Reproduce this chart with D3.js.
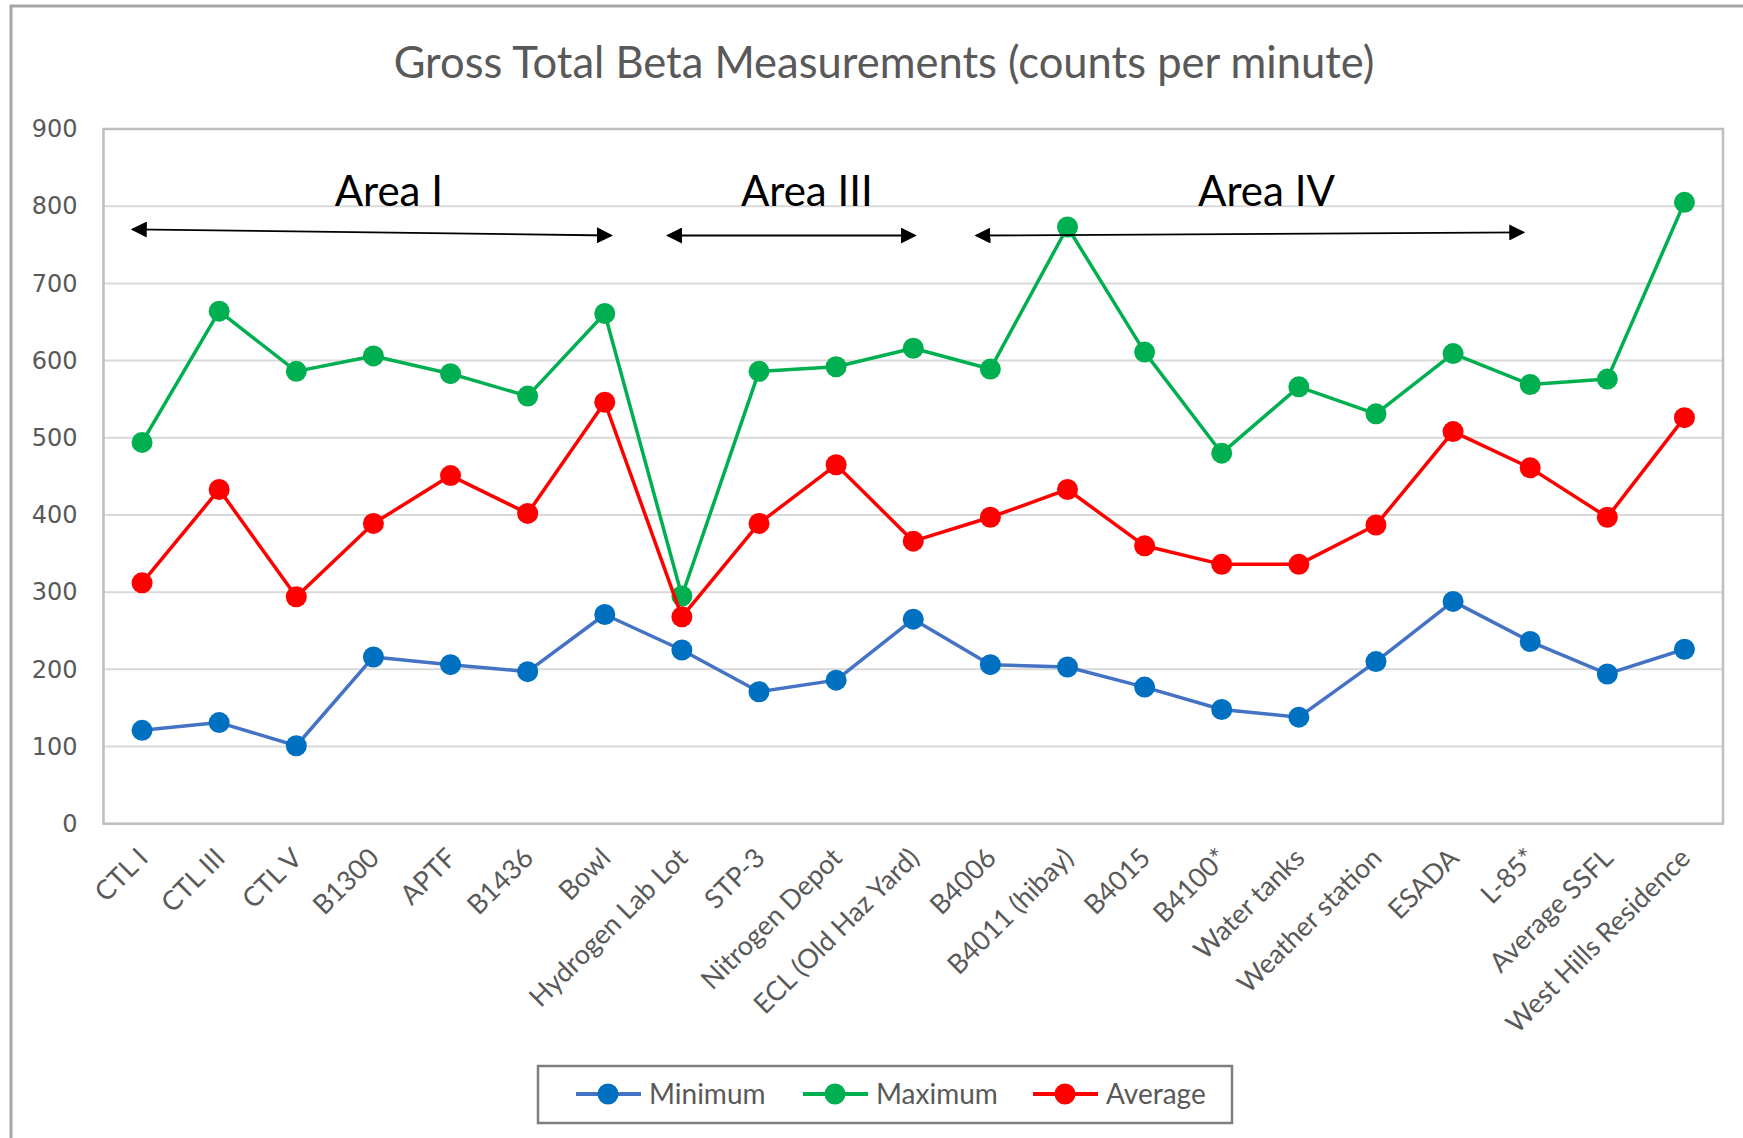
<!DOCTYPE html>
<html><head><meta charset="utf-8">
<script src="https://cdn.jsdelivr.net/npm/d3@7"></script>
<style>html,body{margin:0;padding:0;background:#fff;overflow:hidden}</style>
</head><body>
<svg id="chart" width="1743" height="1138"></svg>
<script>
const categories = ["CTL  I","CTL III","CTL V","B1300","APTF","B1436","Bowl","Hydrogen Lab Lot","STP-3","Nitrogen Depot","ECL (Old Haz Yard)","B4006","B4011 (hibay)","B4015","B4100*","Water tanks","Weather station","ESADA","L-85*","Average SSFL","West Hills Residence"];
const minimum = [121,131,101,216,206,197,271,225,171,186,265,206,203,177,148,138,210,288,236,194,226];
const maximum = [494,664,586,606,583,554,661,295,586,592,616,589,773,611,480,566,531,609,569,576,805];
const average = [312,433,294,389,451,402,546,268,389,465,366,397,433,360,336,336,387,508,461,397,526];
const yTicks = [0,100,200,300,400,500,600,700,800,900];
const seriesNames = ["Minimum","Maximum","Average"];
const lineColors = ["#4472C4","#00B050","#FF0000"];
const markerColors = ["#0070C0","#00B050","#FF0000"];
const title = "Gross Total Beta Measurements (counts per minute)";
// annotations: x in category-index units, y in data units
const areaLabels = [{t:"Area I", i:3.2, v:800},{t:"Area III", i:8.62, v:800},{t:"Area IV", i:14.58, v:800}];
const arrows = [{i0:-0.12,v0:770,i1:6.08,v1:762},{i0:6.82,v0:762,i1:10.02,v1:762},{i0:10.82,v0:762,i1:17.91,v1:766}];

const svg = d3.select("#chart");
const W = 1743, H = 1138;
const plotL = 103.5, plotR = 1723, plotT = 129, plotB = 823.7;

svg.append("rect").attr("x",11).attr("y",6).attr("width",W+20).attr("height",H+20)
  .attr("fill","#fff").attr("stroke","#a6a6a6").attr("stroke-width",3);

const x = d3.scalePoint().domain(categories).range([plotL, plotR]).padding(0.5);
const y = d3.scaleLinear().domain([0,900]).range([plotB, plotT]);
const xi = i => x(categories[0]) + i * x.step();

// gridlines
svg.append("g").selectAll("line").data(yTicks).join("line")
  .attr("x1",plotL).attr("x2",plotR).attr("y1",d=>y(d)).attr("y2",d=>y(d))
  .attr("stroke","#d9d9d9").attr("stroke-width",2);
// plot border
svg.append("rect").attr("x",plotL).attr("y",plotT).attr("width",plotR-plotL).attr("height",plotB-plotT)
  .attr("fill","none").attr("stroke","#bfbfbf").attr("stroke-width",2.5);

// y axis labels
const yAxis = d3.axisLeft(y).tickValues(yTicks).tickSize(0).tickPadding(26);
const gy = svg.append("g").attr("transform",`translate(${plotL},0)`).call(yAxis);
gy.select(".domain").remove();
gy.selectAll("text").attr("font-family","DejaVu Sans").attr("font-size",24).attr("fill","#595959");

// x axis labels
const xAxis = d3.axisBottom(x).tickSize(0).tickPadding(0);
const gx = svg.append("g").attr("transform",`translate(0,${plotB})`).call(xAxis);
gx.select(".domain").remove();
gx.selectAll("text")
  .attr("font-family","Lato").attr("font-size",27).attr("fill","#595959")
  .attr("text-anchor","end").attr("dy","0")
  .attr("transform","translate(7,36) rotate(-45)");

// series
const seriesData = [minimum, maximum, average];
const line = d3.line().x((d,i)=>x(categories[i])).y(d=>y(d));
seriesData.forEach((vals, s) => {
  const g = svg.append("g");
  g.append("path").datum(vals).attr("d",line).attr("fill","none")
    .attr("stroke",lineColors[s]).attr("stroke-width",3.5).attr("stroke-linejoin","round");
  g.selectAll("circle").data(vals).join("circle")
    .attr("cx",(d,i)=>x(categories[i])).attr("cy",d=>y(d)).attr("r",10.5)
    .attr("fill",markerColors[s]);
});

// title
svg.append("text").attr("x",884).attr("y",78).attr("text-anchor","middle")
  .attr("font-family","Lato").attr("font-size",43.5).attr("fill","#595959").text(title);

// arrows
const defs = svg.append("defs");
defs.append("marker").attr("id","ah").attr("viewBox","0 0 16 16").attr("refX",14).attr("refY",8)
  .attr("markerWidth",16).attr("markerHeight",16).attr("markerUnits","userSpaceOnUse").attr("orient","auto-start-reverse")
  .append("path").attr("d","M0,0 L16,8 L0,16 Z").attr("fill","#000");
svg.append("g").selectAll("line").data(arrows).join("line")
  .attr("x1",d=>xi(d.i0)).attr("y1",d=>y(d.v0)).attr("x2",d=>xi(d.i1)).attr("y2",d=>y(d.v1))
  .attr("stroke","#000").attr("stroke-width",1.8)
  .attr("marker-start","url(#ah)").attr("marker-end","url(#ah)");
svg.append("g").selectAll("text").data(areaLabels).join("text")
  .attr("x",d=>xi(d.i)).attr("y",d=>y(d.v)).attr("text-anchor","middle")
  .attr("font-family","Lato").attr("font-size",42).attr("fill","#000").text(d=>d.t);

// legend
const lg = svg.append("g");
lg.append("rect").attr("x",538).attr("y",1066).attr("width",694).attr("height",57)
  .attr("fill","#fff").attr("stroke","#7f7f7f").attr("stroke-width",2.5);
const legX = [576, 803, 1033];
seriesNames.forEach((n,s)=>{
  const g = lg.append("g").attr("transform",`translate(${legX[s]},1094)`);
  g.append("line").attr("x1",0).attr("x2",65).attr("stroke",lineColors[s]).attr("stroke-width",4);
  g.append("circle").attr("cx",32).attr("r",10.5).attr("fill",markerColors[s]);
  g.append("text").attr("x",73).attr("dy","0.35em").attr("font-family","Lato").attr("font-size",28)
    .attr("fill","#595959").text(n);
});
</script>
</body></html>
